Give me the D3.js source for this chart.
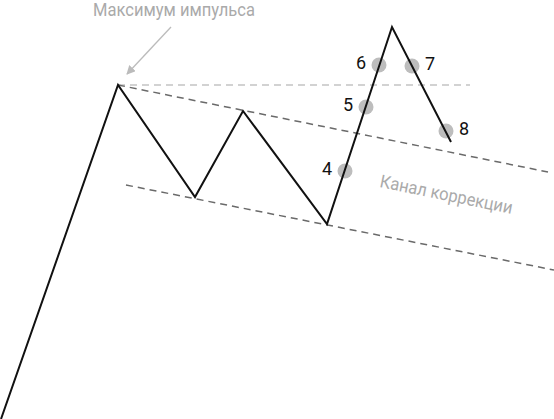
<!DOCTYPE html>
<html>
<head>
<meta charset="utf-8">
<script src="https://cdn.jsdelivr.net/npm/d3@7"></script>
<style>
  body { margin: 0; background: #fff; }
  svg { display: block; }
</style>
</head>
<body>
<svg id="chart" width="554" height="419"></svg>
<script>
// wave (time units, price units)
let waveX = [1, 118, 195, 243, 327, 392, 451]
let waveY = [0, 334, 222, 308, 195, 392, 277]

// channel lines
let upperChannel = [[118, 334], [548, 247]]
let lowerChannel = [[126, 234], [554, 149]]
let impulseLevel = [[118, 334], [470, 334]]

// numbered points
let pointNames = ['4', '5', '6', '7', '8']
let pointX = [345, 366, 379, 412, 446]
let pointY = [248, 312, 354, 353, 288]
let labelSide = [-1, -1, -1, 1, 1]

let titleText = 'Максимум импульса'
let channelText = 'Канал коррекции'

let width = 554, height = 419
let svg = d3.select('#chart')

let x = d3.scaleLinear().domain([0, 554]).range([0, width])
let y = d3.scaleLinear().domain([0, 419]).range([height, 0])

let line = d3.line().x(d => x(d[0])).y(d => y(d[1]))
let font = '"Roboto", "Liberation Sans", sans-serif'

svg.append('defs').append('marker')
    .attr('id', 'arrow')
    .attr('viewBox', '0 0 10 10')
    .attr('refX', 9).attr('refY', 5)
    .attr('markerWidth', 9).attr('markerHeight', 9)
    .attr('markerUnits', 'userSpaceOnUse')
    .attr('orient', 'auto')
    .append('path')
    .attr('d', 'M0,0 L10,5 L0,10 Z')
    .attr('fill', '#bbb')

// dashed guides
svg.append('path').attr('d', line(impulseLevel))
    .attr('fill', 'none').attr('stroke', '#c4c4c4')
    .attr('stroke-width', 1.3).attr('stroke-dasharray', '7,5')

svg.selectAll('path.channel').data([upperChannel, lowerChannel]).enter()
    .append('path')
    .attr('class', 'channel')
    .attr('d', line)
    .attr('fill', 'none').attr('stroke', '#6a6a6a')
    .attr('stroke-width', 1.5).attr('stroke-dasharray', '7,5')

// gray points
svg.selectAll('circle.pt').data(pointNames).enter()
    .append('circle')
    .attr('class', 'pt')
    .attr('cx', (d, i) => x(pointX[i]))
    .attr('cy', (d, i) => y(pointY[i]))
    .attr('r', 7.5)
    .attr('fill', '#bdbdbd')

// wave
let wave = waveX.map((v, i) => [v, waveY[i]])
svg.append('path').attr('d', line(wave))
    .attr('fill', 'none').attr('stroke', '#111')
    .attr('stroke-width', 2).attr('stroke-linejoin', 'miter')

// point labels
svg.selectAll('text.num').data(pointNames).enter()
    .append('text')
    .attr('class', 'num')
    .attr('x', (d, i) => x(pointX[i]) + labelSide[i] * 18)
    .attr('y', (d, i) => y(pointY[i]) - 3)
    .attr('text-anchor', 'middle')
    .attr('dominant-baseline', 'central')
    .attr('font-family', font)
    .attr('font-size', 18)
    .attr('fill', '#111')
    .text(d => d)

// title + arrow
svg.append('text')
    .attr('x', 93).attr('y', 16)
    .attr('font-family', font)
    .attr('font-size', 17.5)
    .attr('textLength', 162)
    .attr('lengthAdjust', 'spacingAndGlyphs')
    .attr('fill', '#aaa')
    .text(titleText)

svg.append('line')
    .attr('x1', 171).attr('y1', 27)
    .attr('x2', 127).attr('y2', 74)
    .attr('stroke', '#bbb').attr('stroke-width', 1.3)
    .attr('marker-end', 'url(#arrow)')

// channel caption
svg.append('text')
    .attr('transform', 'translate(379,187) rotate(11.5)')
    .attr('font-family', font)
    .attr('font-size', 18)
    .attr('textLength', 135)
    .attr('lengthAdjust', 'spacingAndGlyphs')
    .attr('fill', '#aaa')
    .text(channelText)
</script>
</body>
</html>
